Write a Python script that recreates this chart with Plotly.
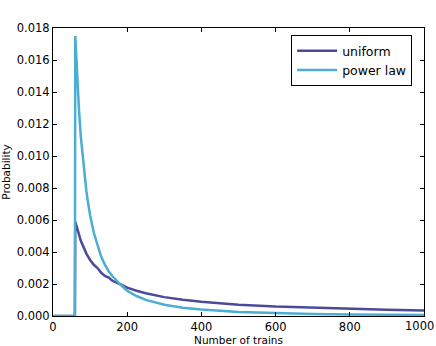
import plotly.graph_objects as go

trains = [1, 59, 60, 63, 66, 70, 75, 80, 85, 90, 95, 100, 110, 120, 130, 140, 150, 160, 180, 200, 225, 250, 300, 350, 400,
          500, 600, 700, 800, 900, 1000]
uniform = [0, 0, 0.0059, 0.0056, 0.0054, 0.0051, 0.0047, 0.0044, 0.0042, 0.0039, 0.0037, 0.0035, 0.0032, 0.0030, 0.0027,
           0.0025, 0.0024, 0.0022, 0.0020, 0.00177, 0.00158, 0.00142, 0.00118, 0.00101, 0.00089, 0.00071, 0.00059,
           0.00051, 0.00044, 0.00039, 0.00035]
power_law = [0, 0, 0.0175, 0.0159, 0.0145, 0.0129, 0.0112, 0.0099, 0.0088, 0.0078, 0.0070, 0.0063, 0.0052, 0.0044, 0.0037,
             0.0032, 0.0028, 0.0025, 0.0020, 0.00158, 0.00125, 0.00101, 0.0007, 0.00052, 0.0004, 0.00025, 0.00018,
             0.00013, 0.0001, 0.00008, 0.00006]

x_ticks = [0, 200, 400, 600, 800, 1000]
y_ticks = [0.000, 0.002, 0.004, 0.006, 0.008, 0.010, 0.012, 0.014, 0.016, 0.018]

fig = go.Figure()
fig.add_trace(go.Scatter(x=trains, y=uniform, mode="lines", name="uniform",
                         line=dict(color="#4b4b98", width=2.5)))
fig.add_trace(go.Scatter(x=trains, y=power_law, mode="lines", name="power law",
                         line=dict(color="#4aadd2", width=2.5)))

tick_font = dict(family="DejaVu Sans", size=11.5, color="black")
axis_common = dict(showline=True, linecolor="black", linewidth=1, mirror="ticks",
                   ticks="inside", ticklen=4, tickcolor="black", showgrid=False,
                   zeroline=False, automargin=False, tickfont=tick_font)

fig.update_layout(
    width=436, height=346,
    margin=dict(l=53, r=12, t=28, b=30),
    plot_bgcolor="white", paper_bgcolor="white",
    font=dict(family="DejaVu Sans", color="black"),
    xaxis=dict(range=[0, 1000], tickvals=x_ticks,
               ticktext=[str(v) if v != 1000 else "" for v in x_ticks],
               title=dict(text="Number of trains", font=dict(size=10.5), standoff=1), **axis_common),
    yaxis=dict(range=[0, 0.018], tickvals=y_ticks, ticktext=[f"{v:.3f}" for v in y_ticks],
               title=dict(text="Probability", font=dict(size=10.5), standoff=5), **axis_common),
    legend=dict(x=0.968, y=0.975, xanchor="right", yanchor="top", bordercolor="black", borderwidth=1,
                bgcolor="white", font=dict(size=12.5), itemwidth=40, tracegroupgap=0),
)
fig.add_annotation(x=1, y=0, xref="paper", yref="y", text=str(x_ticks[-1]), showarrow=False,
                   yanchor="top", xanchor="right", xshift=12, yshift=-1, font=tick_font)

fig.write_html("out.html")
